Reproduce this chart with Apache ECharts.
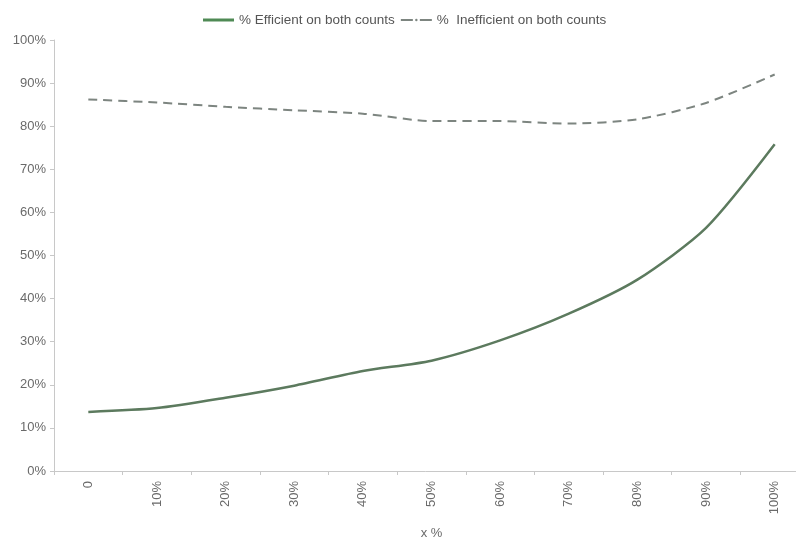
<!DOCTYPE html>
<html lang="en">
<head>
    <meta charset="UTF-8">
    <title>Efficient / inefficient on both counts</title>
    <script src="https://cdn.jsdelivr.net/npm/echarts@6/dist/echarts.min.js"></script>
    <style>
        html, body { margin: 0; padding: 0; background: #fff; }
        #main { width: 796px; height: 542px; }
    </style>
</head>
<body>
<div id="main"></div>
<script>
    // x categories
    var categories = ['0', '10%', '20%', '30%', '40%', '50%', '60%', '70%', '80%', '90%', '100%'];
    // values in percent
    var efficient = [13.7, 14.6, 17, 19.8, 23.2, 25.6, 30.3, 36.5, 44.4, 56.4, 75.8];
    var inefficient = [86.2, 85.5, 84.5, 83.7, 82.9, 81.2, 81.2, 80.6, 81.6, 85.4, 92];
    var yTicks = [0, 10, 20, 30, 40, 50, 60, 70, 80, 90, 100];

    var myChart = echarts.init(document.getElementById('main'));
    var axisGrey = '#c8c8c8';
    var textGrey = '#6a6a6a';
    var option = {
        animation: false,
        textStyle: { fontFamily: 'Liberation Sans, Arial, sans-serif' },
        legend: {
            top: 8,
            left: 198,
            itemWidth: 31,
            itemHeight: 3,
            itemGap: 5,
            textStyle: { fontSize: 13.5, color: '#555' },
            data: [
                { name: '% Efficient on both counts', icon: 'rect' },
                { name: '%  Inefficient on both counts', lineStyle: { type: [12, 7] } }
            ]
        },
        // the plot runs past the right edge of the picture, as in the original
        grid: { left: 54, right: -13, top: 40, bottom: 71, outerBoundsMode: 'none' },
        xAxis: {
            type: 'category',
            data: categories,
            boundaryGap: true,
            name: 'x %',
            nameLocation: 'middle',
            nameGap: 56,
            nameTextStyle: { fontSize: 13, color: textGrey },
            axisLine: { lineStyle: { color: axisGrey } },
            axisTick: { show: true, length: 4, lineStyle: { color: axisGrey } },
            axisLabel: { rotate: 90, margin: 10, fontSize: 13, color: textGrey }
        },
        yAxis: {
            type: 'value',
            min: yTicks[0],
            max: yTicks[yTicks.length - 1],
            interval: 10,
            splitLine: { show: false },
            axisLine: { show: true, lineStyle: { color: axisGrey } },
            axisTick: { show: true, length: 4, lineStyle: { color: axisGrey } },
            axisLabel: { margin: 8, fontSize: 13, color: textGrey, formatter: '{value}%' }
        },
        series: [
            {
                name: '% Efficient on both counts',
                type: 'line',
                data: efficient,
                smooth: 0.25,
                symbol: 'none',
                color: '#4f8a55',
                lineStyle: { width: 2.5, color: '#5c7a5e' }
            },
            {
                name: '%  Inefficient on both counts',
                type: 'line',
                data: inefficient,
                smooth: 0.25,
                symbol: 'none',
                color: '#7d8580',
                lineStyle: { width: 2, color: '#7d8580', type: [9, 6] }
            }
        ]
    };
    myChart.setOption(option);
</script>
</body>
</html>
